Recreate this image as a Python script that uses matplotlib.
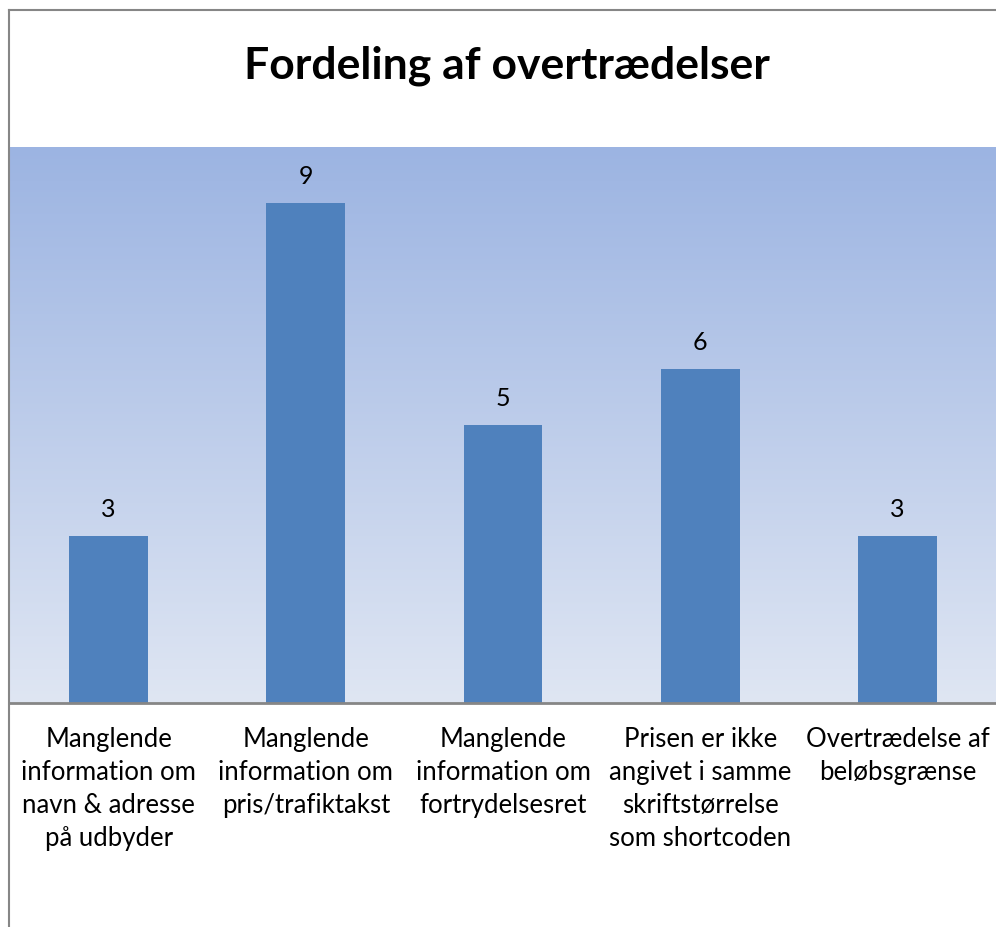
import numpy as np
import matplotlib
matplotlib.use('Agg')
import matplotlib.pyplot as plt
from matplotlib.lines import Line2D
import matplotlib.colors as mcolors

plt.rcParams['font.family'] = ['Lato', 'DejaVu Sans']

kategorier = ['Manglende\ninformation om\nnavn & adresse\npå udbyder',
              'Manglende\ninformation om\npris/trafiktakst',
              'Manglende\ninformation om\nfortrydelsesret',
              'Prisen er ikke\nangivet i samme\nskriftstørrelse\nsom shortcoden',
              'Overtrædelse af\nbeløbsgrænse']
antal = [3, 9, 5, 6, 3]

fig = plt.figure(figsize=(9.96, 9.27), dpi=100)
ax = fig.add_axes([10/996, (927-703)/927, 986/996, (703-147)/927])

# gradient background
cmap = mcolors.LinearSegmentedColormap.from_list('bg', ['#dfe6f3', '#9cb4e2'])
grad = np.linspace(0, 1, 256).reshape(-1, 1)
ax.imshow(grad, cmap=cmap, aspect='auto', origin='lower',
          extent=(-0.5, len(antal) - 0.5, 0, 10), zorder=0)

x = np.arange(len(antal))
ax.bar(x, antal, width=0.4, color='#4f81bd', zorder=2)
for xi, v in zip(x, antal):
    ax.text(xi, v + 0.27, str(v), ha='center', va='bottom', fontsize=18, zorder=3)

ax.set_xlim(-0.5, len(antal) - 0.5)
ax.set_ylim(0, 10)
ax.set_yticks([])
ax.set_xticks(x)
ax.set_xticklabels(kategorier, fontsize=18.5, linespacing=1.4, va='top')
ax.tick_params(axis='x', length=0, pad=17)
for s in ['top', 'right', 'left']:
    ax.spines[s].set_visible(False)
ax.spines['bottom'].set_color('#868686')
ax.spines['bottom'].set_linewidth(2)

fig.text(507/996, 1 - 66/927, 'Fordeling af overtrædelser', ha='center', va='center',
         fontsize=32, fontweight='bold')

# chart frame
fig.add_artist(Line2D([9/996, 9/996], [0, 1 - 10/927], transform=fig.transFigure,
                      color='#868686', lw=1.5))
fig.add_artist(Line2D([9/996, 1], [1 - 10/927, 1 - 10/927], transform=fig.transFigure,
                      color='#868686', lw=1.5))

fig.savefig('out.png', dpi=100)
